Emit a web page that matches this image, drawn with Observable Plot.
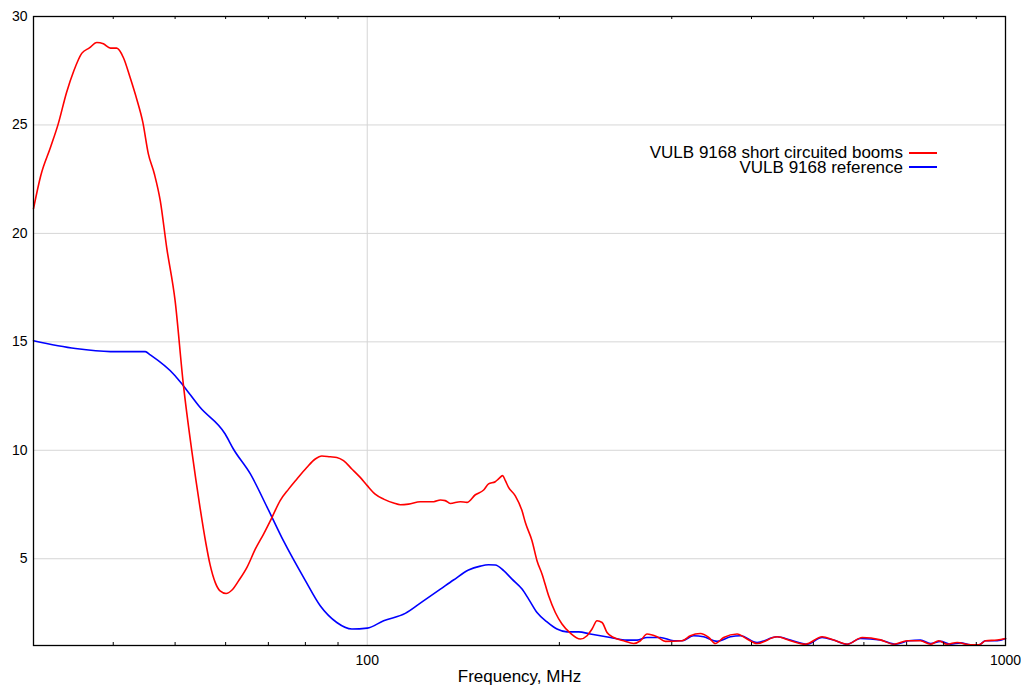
<!DOCTYPE html>
<html>
<head>
<meta charset="utf-8">
<script src="https://cdn.jsdelivr.net/npm/d3@7"></script>
<script src="https://cdn.jsdelivr.net/npm/@observablehq/plot@0.6"></script>
<style>
  html, body { margin: 0; padding: 0; background: #fff; }
  #wrap { position: relative; width: 1021px; height: 692px; font-family: "Liberation Sans", Arial, sans-serif; }
  #legend { position: absolute; right: 84px; top: 146px; font-size: 17px; line-height: 14.5px; color: #000; }
  .row { display: flex; justify-content: flex-end; align-items: center; white-space: nowrap; height: 14.5px; }
  .sw { display: inline-block; width: 28px; height: 0; margin-left: 6px; position: relative; top: -0.5px; }
</style>
</head>
<body>
<div id="wrap"></div>
<script>
// Frequency (MHz) and level readings for each series
const redFreq = [30, 30.8, 31.9, 32.8, 33.8, 34.7, 35.7, 36.7, 37.7, 38.6, 39.6, 40.5, 41.5, 42.5, 43.6, 44.5, 45.4, 46.4, 47.4, 48.5, 50.0, 51.5, 53.1, 54.7, 55.9, 56.7, 57.8, 58.8, 60.1, 61.4, 62.9, 64.8, 66.8, 68.8, 70.9, 73.0, 75.3, 77.6, 80.4, 82.9, 84.9, 87.5, 89.6, 91.8, 94.6, 97.5, 100, 102.9, 106.1, 110.0, 112.7, 116.1, 121.1, 127.1, 130.2, 132.5, 134.9, 139.9, 143.3, 147.7, 152.2, 154.9, 158.7, 160.6, 163.0, 164.6, 166.5, 170.6, 174.8, 176.9, 181.2, 184.5, 187.9, 192.4, 197.1, 201.9, 208.1, 215.7, 221.0, 225.0, 229.1, 233.3, 237.5, 243.3, 252.2, 261.5, 267.9, 274.4, 284.5, 293.2, 311.4, 320.8, 332.6, 342.8, 351.1, 361.8, 379.7, 393.6, 408.1, 438.7, 460.3, 485.9, 516.0, 538.1, 564.8, 596.4, 637.0, 668.2, 701.3, 735.9, 762.8, 786.1, 810.2, 840.0, 881.3, 908.1, 930.5, 970.5, 1000];
const redValue = [21.14, 22.67, 23.97, 25.05, 26.5, 27.5, 28.3, 28.55, 28.8, 28.74, 28.54, 28.54, 28.1, 27.2, 26.13, 25.13, 23.67, 22.74, 21.5, 19.36, 16.9, 13.06, 9.98, 7.37, 5.68, 4.75, 3.9, 3.52, 3.4, 3.56, 3.99, 4.6, 5.45, 6.14, 6.9, 7.67, 8.21, 8.68, 9.21, 9.6, 9.74, 9.7, 9.67, 9.52, 9.14, 8.75, 8.37, 7.98, 7.75, 7.57, 7.49, 7.52, 7.63, 7.63, 7.71, 7.68, 7.55, 7.63, 7.6, 7.95, 8.17, 8.45, 8.55, 8.68, 8.83, 8.6, 8.29, 7.9, 7.21, 6.67, 5.83, 4.91, 4.29, 3.29, 2.52, 1.99, 1.57, 1.30, 1.45, 1.76, 2.14, 2.06, 1.6, 1.37, 1.22, 1.09, 1.22, 1.53, 1.40, 1.19, 1.22, 1.45, 1.55, 1.37, 1.09, 1.37, 1.53, 1.30, 1.09, 1.40, 1.22, 1.06, 1.40, 1.25, 1.06, 1.37, 1.26, 1.06, 1.22, 1.22, 1.06, 1.22, 1.06, 1.14, 1.03, 1.03, 1.22, 1.25, 1.32];

const blueFreq = [30, 34.9, 39.6, 44.9, 45.7, 50.0, 51.5, 54.7, 59.9, 61.7, 65.6, 69.7, 73.9, 80.0, 84.4, 89.6, 94.6, 100, 106.1, 114.7, 122.5, 130.2, 136.5, 144.1, 150.4, 154.9, 158.7, 163.6, 168.6, 174.8, 179.0, 184.5, 191.3, 198.3, 205.6, 214.4, 223.6, 240.4, 255.3, 264.7, 274.4, 287.9, 302.0, 311.4, 324.6, 336.6, 353.3, 370.7, 384.3, 408.1, 438.7, 460.3, 489.0, 516.0, 538.1, 564.8, 592.7, 637.0, 672.4, 705.3, 735.9, 762.8, 790.8, 820.1, 850.2, 881.3, 908.1, 930.5, 970.5, 1000];
const blueValue = [15.05, 14.69, 14.55, 14.55, 14.4, 13.44, 12.98, 11.98, 10.75, 10.06, 8.91, 7.37, 5.83, 3.99, 2.83, 2.06, 1.76, 1.80, 2.14, 2.48, 3.06, 3.60, 4.02, 4.48, 4.66, 4.72, 4.71, 4.45, 4.06, 3.60, 3.14, 2.52, 2.09, 1.76, 1.63, 1.63, 1.53, 1.37, 1.25, 1.25, 1.37, 1.37, 1.22, 1.22, 1.45, 1.40, 1.19, 1.40, 1.45, 1.14, 1.40, 1.25, 1.06, 1.37, 1.25, 1.06, 1.32, 1.25, 1.06, 1.22, 1.25, 1.09, 1.19, 1.06, 1.12, 1.03, 1.03, 1.22, 1.22, 1.32];

const seriesNames = ["VULB 9168 short circuited booms", "VULB 9168 reference"];
const seriesColors = ["#ff0000", "#0000ff"];
const yTicks = [5, 10, 15, 20, 25, 30];
const yGrid = [5, 10, 15, 20, 25];
const xTicks = [100, 1000];
const xGrid = [100];
const xMinor = [40, 50, 60, 70, 80, 90, 200, 300, 400, 500, 600, 700, 800, 900];
const xLabel = "Frequency, MHz";

const red = redFreq.map((f, i) => ({f, v: redValue[i]}));
const blue = blueFreq.map((f, i) => ({f, v: blueValue[i]}));

const chart = Plot.plot({
  width: 1021,
  height: 692,
  marginLeft: 33,
  marginTop: 16,
  marginRight: 16,
  marginBottom: 47,
  style: {fontFamily: '"Liberation Sans", Arial, sans-serif', background: "#fff", color: "#000"},
  x: {type: "log", domain: [30, 1000]},
  y: {domain: [1, 30]},
  marks: [
    Plot.gridY(yGrid, {stroke: "#d6d6d6", strokeOpacity: 1}),
    Plot.gridX(xGrid, {stroke: "#d6d6d6", strokeOpacity: 1}),
    Plot.line(blue, {x: "f", y: "v", stroke: seriesColors[1], strokeWidth: 1.6, curve: "monotone-x"}),
    Plot.line(red, {x: "f", y: "v", stroke: seriesColors[0], strokeWidth: 1.6, curve: "monotone-x"}),
    Plot.ruleX(xMinor, {stroke: "#000", insetTop: 626}),
    Plot.ruleX(xMinor, {stroke: "#000", insetBottom: 626}),
    Plot.frame({stroke: "#000", strokeWidth: 1.3}),
    Plot.axisY(yTicks, {tickSize: 0, tickPadding: 6, fontSize: 14, label: null}),
    Plot.axisX(xTicks, {tickSize: 0, tickPadding: 10, fontSize: 14, label: null, tickFormat: d => String(d)}),
    Plot.text([xLabel], {frameAnchor: "bottom", dy: 36.6, fontSize: 17, text: d => d})
  ]
});

const wrap = document.getElementById("wrap");
wrap.appendChild(chart);

const legend = document.createElement("div");
legend.id = "legend";
seriesNames.forEach((name, i) => {
  const row = document.createElement("div");
  row.className = "row";
  const t = document.createElement("span");
  t.textContent = name;
  const sw = document.createElement("span");
  sw.className = "sw";
  sw.style.borderTop = "2px solid " + seriesColors[i];
  row.appendChild(t);
  row.appendChild(sw);
  legend.appendChild(row);
});
wrap.appendChild(legend);
</script>
</body>
</html>
